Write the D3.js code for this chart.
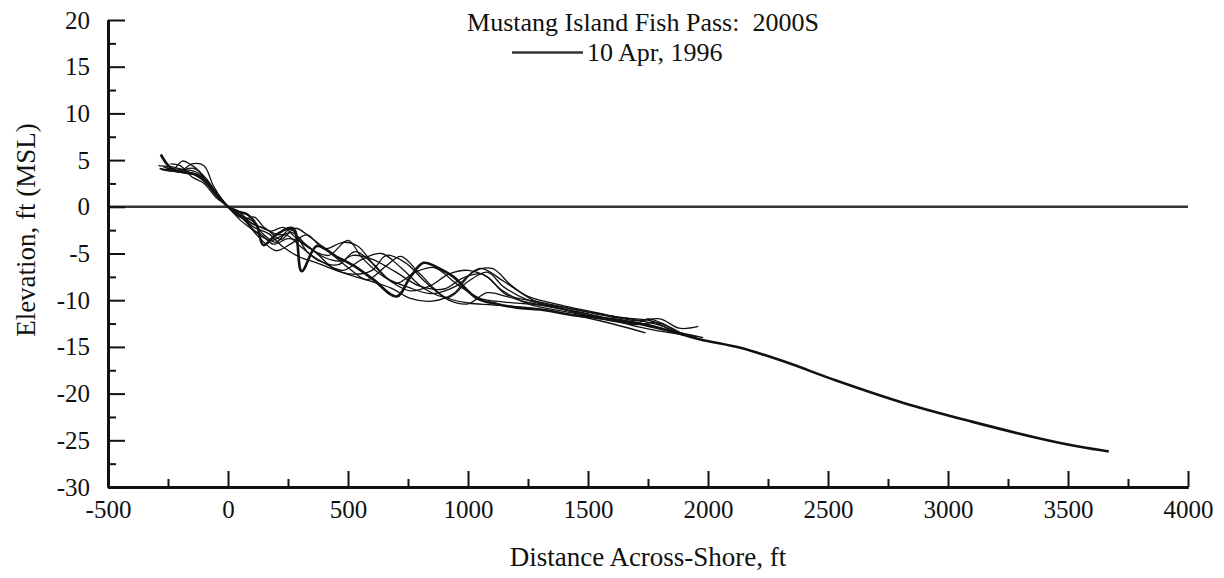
<!DOCTYPE html>
<html>
<head>
<meta charset="utf-8">
<script src="https://cdn.jsdelivr.net/npm/d3@7"></script>
<style>
  html, body { margin: 0; padding: 0; background: #fff; }
  svg { display: block; }
  text { font-family: "Liberation Serif", "Times New Roman", serif; fill: #111; }
</style>
</head>
<body>
<svg id="chart" width="1224" height="578"></svg>
<script>
// Beach profile surveys, distance across-shore (ft) vs elevation (ft, MSL)
const surveyMain = [
  [-280, 5.6], [-255, 4.6], [-225, 3.9], [-180, 3.7], [-140, 3.5], [-100, 2.8], [-50, 1.5],
  [0, 0], [40, -0.5], [80, -0.8], [120, -2.0], [147, -4.1], [200, -3.0], [272, -2.3],
  [307, -6.9], [370, -4.2], [450, -5.3], [530, -6.4], [606, -7.8], [703, -9.6], [760, -7.5],
  [815, -6.0], [880, -6.6], [940, -7.5], [1037, -9.8], [1120, -10.4], [1204, -10.8],
  [1301, -11.0], [1440, -11.6], [1648, -12.2], [1856, -13.4], [1968, -14.2], [2135, -15.1],
  [2321, -16.6], [2534, -18.6], [2815, -21.0], [3099, -23.0], [3382, -24.8], [3550, -25.7],
  [3670, -26.2]
];

const surveyA = [
  [-285, 4.1], [-230, 4.0], [-190, 4.9], [-160, 4.6], [-120, 3.8], [-60, 1.5], [0, 0],
  [60, -1.2], [120, -2.0], [180, -2.6], [230, -2.2], [290, -3.5], [350, -4.6], [420, -5.2],
  [500, -3.6], [560, -5.5], [650, -7.5], [750, -8.6], [850, -9.3], [950, -8.5], [1050, -6.6],
  [1150, -8.0], [1250, -9.6], [1400, -10.6], [1550, -11.4], [1700, -12.2], [1800, -12.0],
  [1880, -13.0], [1960, -12.8]
];
const surveyB = [
  [-280, 4.0], [-200, 3.8], [-150, 4.6], [-100, 4.4], [-60, 2.2], [0, 0], [50, -0.9],
  [100, -1.5], [150, -3.0], [200, -3.8], [260, -2.4], [330, -4.8], [400, -6.0], [480, -6.8],
  [560, -5.6], [640, -5.0], [720, -6.5], [820, -8.8], [920, -9.7], [1000, -8.0], [1080, -7.0],
  [1150, -8.6], [1250, -10.0], [1400, -11.0], [1550, -12.0], [1700, -12.5], [1750, -12.0],
  [1820, -12.6], [1900, -13.7]
];
const surveyC = [
  [-270, 4.3], [-210, 3.9], [-140, 4.1], [-90, 3.0], [-40, 1.0], [0, 0], [40, -0.4],
  [100, -1.8], [160, -2.4], [220, -3.5], [280, -2.3], [340, -3.2], [420, -4.8], [500, -6.5],
  [580, -7.8], [660, -6.3], [720, -5.3], [800, -7.2], [900, -9.6], [1000, -10.3],
  [1100, -10.5], [1250, -10.8], [1400, -11.4], [1550, -12.2], [1740, -13.5]
];
const surveyD = [
  [-260, 4.2], [-180, 3.6], [-120, 3.3], [-70, 2.0], [0, 0], [60, -1.0], [120, -2.8],
  [180, -3.6], [240, -3.0], [300, -4.2], [380, -5.8], [460, -6.2], [530, -4.8], [600, -6.0],
  [680, -8.0], [760, -9.0], [840, -8.5], [920, -7.2], [1000, -6.8], [1080, -7.5],
  [1160, -9.4], [1300, -10.2], [1450, -11.0], [1600, -11.8], [1760, -12.2], [1850, -13.2],
  [1980, -14.0]
];
const surveyE = [
  [-290, 4.4], [-220, 4.2], [-170, 3.8], [-110, 3.0], [-50, 1.4], [0, 0], [70, -1.5],
  [130, -3.3], [200, -4.7], [260, -4.0], [330, -3.0], [400, -4.5], [480, -3.8], [540, -4.2],
  [620, -6.6], [700, -8.2], [780, -7.0], [860, -6.5], [950, -8.2], [1050, -9.8],
  [1150, -10.2], [1300, -10.5], [1450, -11.2], [1600, -12.0], [1750, -12.6], [1900, -13.8]
];
const surveyF = [
  [-250, 4.0], [-190, 4.0], [-130, 3.7], [-80, 2.6], [-30, 0.8], [0, 0], [50, -1.0],
  [110, -2.2], [170, -2.9], [230, -4.3], [300, -5.4], [370, -6.0], [450, -6.8], [520, -7.4],
  [600, -8.0], [680, -8.7], [760, -9.8], [850, -10.1], [940, -9.3], [1020, -7.0],
  [1100, -6.6], [1180, -8.4], [1280, -10.1], [1420, -10.9], [1580, -11.6], [1720, -12.2],
  [1800, -12.7], [1880, -13.6]
];
const surveyG = [
  [-275, 4.0], [-200, 3.7], [-130, 3.5], [-90, 2.8], [-40, 1.2], [0, 0], [30, -0.8],
  [70, -1.3], [110, -1.1], [150, -2.2], [210, -3.0], [270, -2.8], [330, -4.2], [400, -5.4],
  [470, -5.8], [520, -5.2], [600, -5.6], [700, -7.0], [800, -8.5], [900, -8.8], [980, -7.6],
  [1060, -7.2], [1140, -8.9], [1250, -10.4], [1400, -11.2], [1560, -11.9], [1700, -12.6],
  [1790, -12.4], [1870, -13.4]
];
const surveyH = [
  [-240, 4.6], [-200, 4.4], [-150, 3.2], [-100, 2.5], [-50, 1.0], [0, 0], [50, -1.4],
  [100, -2.4], [140, -3.0], [190, -4.0], [250, -3.4], [310, -3.8], [370, -5.0], [440, -6.6],
  [520, -7.2], [600, -6.8], [660, -5.2], [740, -6.0], [820, -8.0], [920, -10.0],
  [1000, -10.4], [1080, -9.2], [1160, -9.6], [1260, -10.3], [1400, -11.0], [1550, -11.8],
  [1700, -12.8], [1820, -13.4], [1950, -13.9]
];

const thinSurveys = [surveyA, surveyB, surveyC, surveyD, surveyE, surveyF, surveyG, surveyH];

const xTicks = [-500, 0, 500, 1000, 1500, 2000, 2500, 3000, 3500, 4000];
const yTicks = [-30, -25, -20, -15, -10, -5, 0, 5, 10, 15, 20];

const titleText = "Mustang Island Fish Pass:  2000S";
const legendText = "10 Apr, 1996";
const xLabel = "Distance Across-Shore, ft";
const yLabel = "Elevation, ft (MSL)";

const svg = d3.select("#chart");
const W = 1224, H = 578;
svg.append("rect").attr("width", W).attr("height", H).attr("fill", "#fff");

const plotLeft = 108, plotRight = 1188, plotTop = 20, plotBottom = 487;
const x = d3.scaleLinear().domain([-500, 4000]).range([plotLeft, plotRight]);
const y = d3.scaleLinear().domain([-30, 20]).range([plotBottom, plotTop]);

const ink = "#111";
const serif = "'Liberation Serif', 'Times New Roman', serif";
const fmt = d => String(d);   // plain hyphen for negatives

// zero (MSL) reference line
svg.append("line")
  .attr("x1", x(-500)).attr("x2", x(4000))
  .attr("y1", y(0)).attr("y2", y(0))
  .attr("stroke", "#333").attr("stroke-width", 2.4);

// profiles
const line = d3.line()
  .x(d => x(d[0])).y(d => y(d[1]))
  .curve(d3.curveCatmullRom.alpha(0.5));

svg.append("g").selectAll("path").data(thinSurveys).join("path")
  .attr("d", line)
  .attr("fill", "none").attr("stroke", ink).attr("stroke-width", 1.3)
  .attr("stroke-linejoin", "round");

svg.append("path").datum(surveyMain)
  .attr("d", line)
  .attr("fill", "none").attr("stroke", ink).attr("stroke-width", 2.6)
  .attr("stroke-linejoin", "round");

// axes with inward ticks
const minorX = d3.range(-250, 4000, 500);
const minorY = d3.range(-27.5, 20, 5);

const gx = svg.append("g").attr("transform", `translate(0,${plotBottom})`);
gx.call(d3.axisBottom(x).tickValues(xTicks).tickSizeInner(-16).tickSizeOuter(0)
  .tickPadding(13).tickFormat(fmt));
gx.append("g").call(d3.axisBottom(x).tickValues(minorX).tickSizeInner(-8).tickSizeOuter(0)
  .tickFormat(""));

const gy = svg.append("g").attr("transform", `translate(${plotLeft},0)`);
gy.call(d3.axisLeft(y).tickValues(yTicks).tickSizeInner(-17).tickSizeOuter(0)
  .tickPadding(18).tickFormat(fmt));
gy.append("g").call(d3.axisLeft(y).tickValues(minorY).tickSizeInner(-8).tickSizeOuter(0)
  .tickFormat(""));

svg.selectAll(".domain").attr("stroke", ink).attr("stroke-width", 3);
svg.selectAll(".tick line").attr("stroke", ink).attr("stroke-width", 2);
svg.selectAll(".tick text")
  .attr("font-family", serif).style("font-family", serif)
  .attr("font-size", 25).attr("fill", ink);
gx.selectAll(".tick text").attr("dy", "0.71em");

// title and legend entry
svg.append("text")
  .attr("x", (plotLeft + plotRight) / 2 - 5).attr("y", 31)
  .attr("text-anchor", "middle")
  .attr("font-size", 26)
  .style("white-space", "pre")
  .text(titleText);

svg.append("line")
  .attr("x1", 512).attr("x2", 583).attr("y1", 52.5).attr("y2", 52.5)
  .attr("stroke", "#333").attr("stroke-width", 2.4);
svg.append("text")
  .attr("x", 587).attr("y", 61)
  .attr("font-size", 26)
  .text(legendText);

// axis titles
svg.append("text")
  .attr("x", (plotLeft + plotRight) / 2).attr("y", 566)
  .attr("text-anchor", "middle")
  .attr("font-size", 27)
  .text(xLabel);

svg.append("text")
  .attr("transform", `translate(35,230) rotate(-90)`)
  .attr("text-anchor", "middle")
  .attr("font-size", 27)
  .text(yLabel);
</script>
</body>
</html>
